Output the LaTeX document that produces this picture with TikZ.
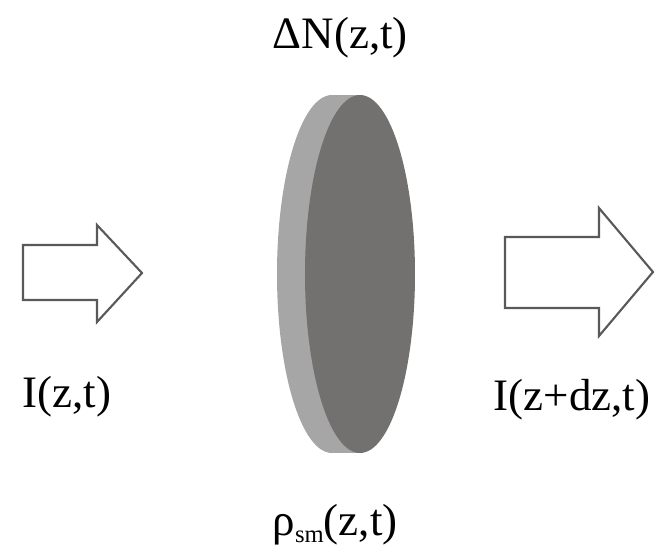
\documentclass[tikz,border=0pt]{standalone}
\usepackage{fontspec}
\setmainfont{Liberation Serif}
\usetikzlibrary{positioning}
\definecolor{slabface}{RGB}{115,113,112}
\definecolor{slabrim}{RGB}{166,166,166}

\begin{document}
\begin{tikzpicture}[
    lbl/.style={anchor=base west, inner sep=0pt, font=\fontsize{12.8}{15}\selectfont},
    beam/.style={draw=black!65, line width=0.6pt, fill=white, line join=miter},
    rim/.style={fill=slabrim},
    face/.style={fill=slabface}
]
\useasboundingbox (0,0) rectangle (6.6,-5.47);

% Slab: rim (back) and front face
\fill[rim] (3.32,-2.74) ellipse (0.55 and 1.79);
\fill[rim] (3.32,-0.95) rectangle (3.60,-4.53);
\fill[face] (3.60,-2.74) ellipse (0.55 and 1.79);

% Incoming and outgoing intensity
\draw[beam] (0.23,-2.45) -- (0.97,-2.45) -- (0.97,-2.25) -- (1.42,-2.73)
    -- (0.97,-3.22) -- (0.97,-3.00) -- (0.23,-3.00) -- cycle;
\draw[beam] (5.05,-2.37) -- (5.99,-2.37) -- (5.99,-2.08) -- (6.53,-2.72)
    -- (5.99,-3.36) -- (5.99,-3.08) -- (5.05,-3.08) -- cycle;

% Labels
\node[lbl] (dn)   at (2.72,-0.48) {ΔN(z,t)};
\node[lbl] (iin)  at (0.22,-4.07) {I(z,t)};
\node[lbl] (iout) at (4.93,-4.10) {I(z+dz,t)};
\node[lbl] (rho)  at (2.72,-5.35) {ρ\raisebox{-0.35ex}{\fontsize{7}{8}\selectfont sm}(z,t)};
\end{tikzpicture}
\end{document}
